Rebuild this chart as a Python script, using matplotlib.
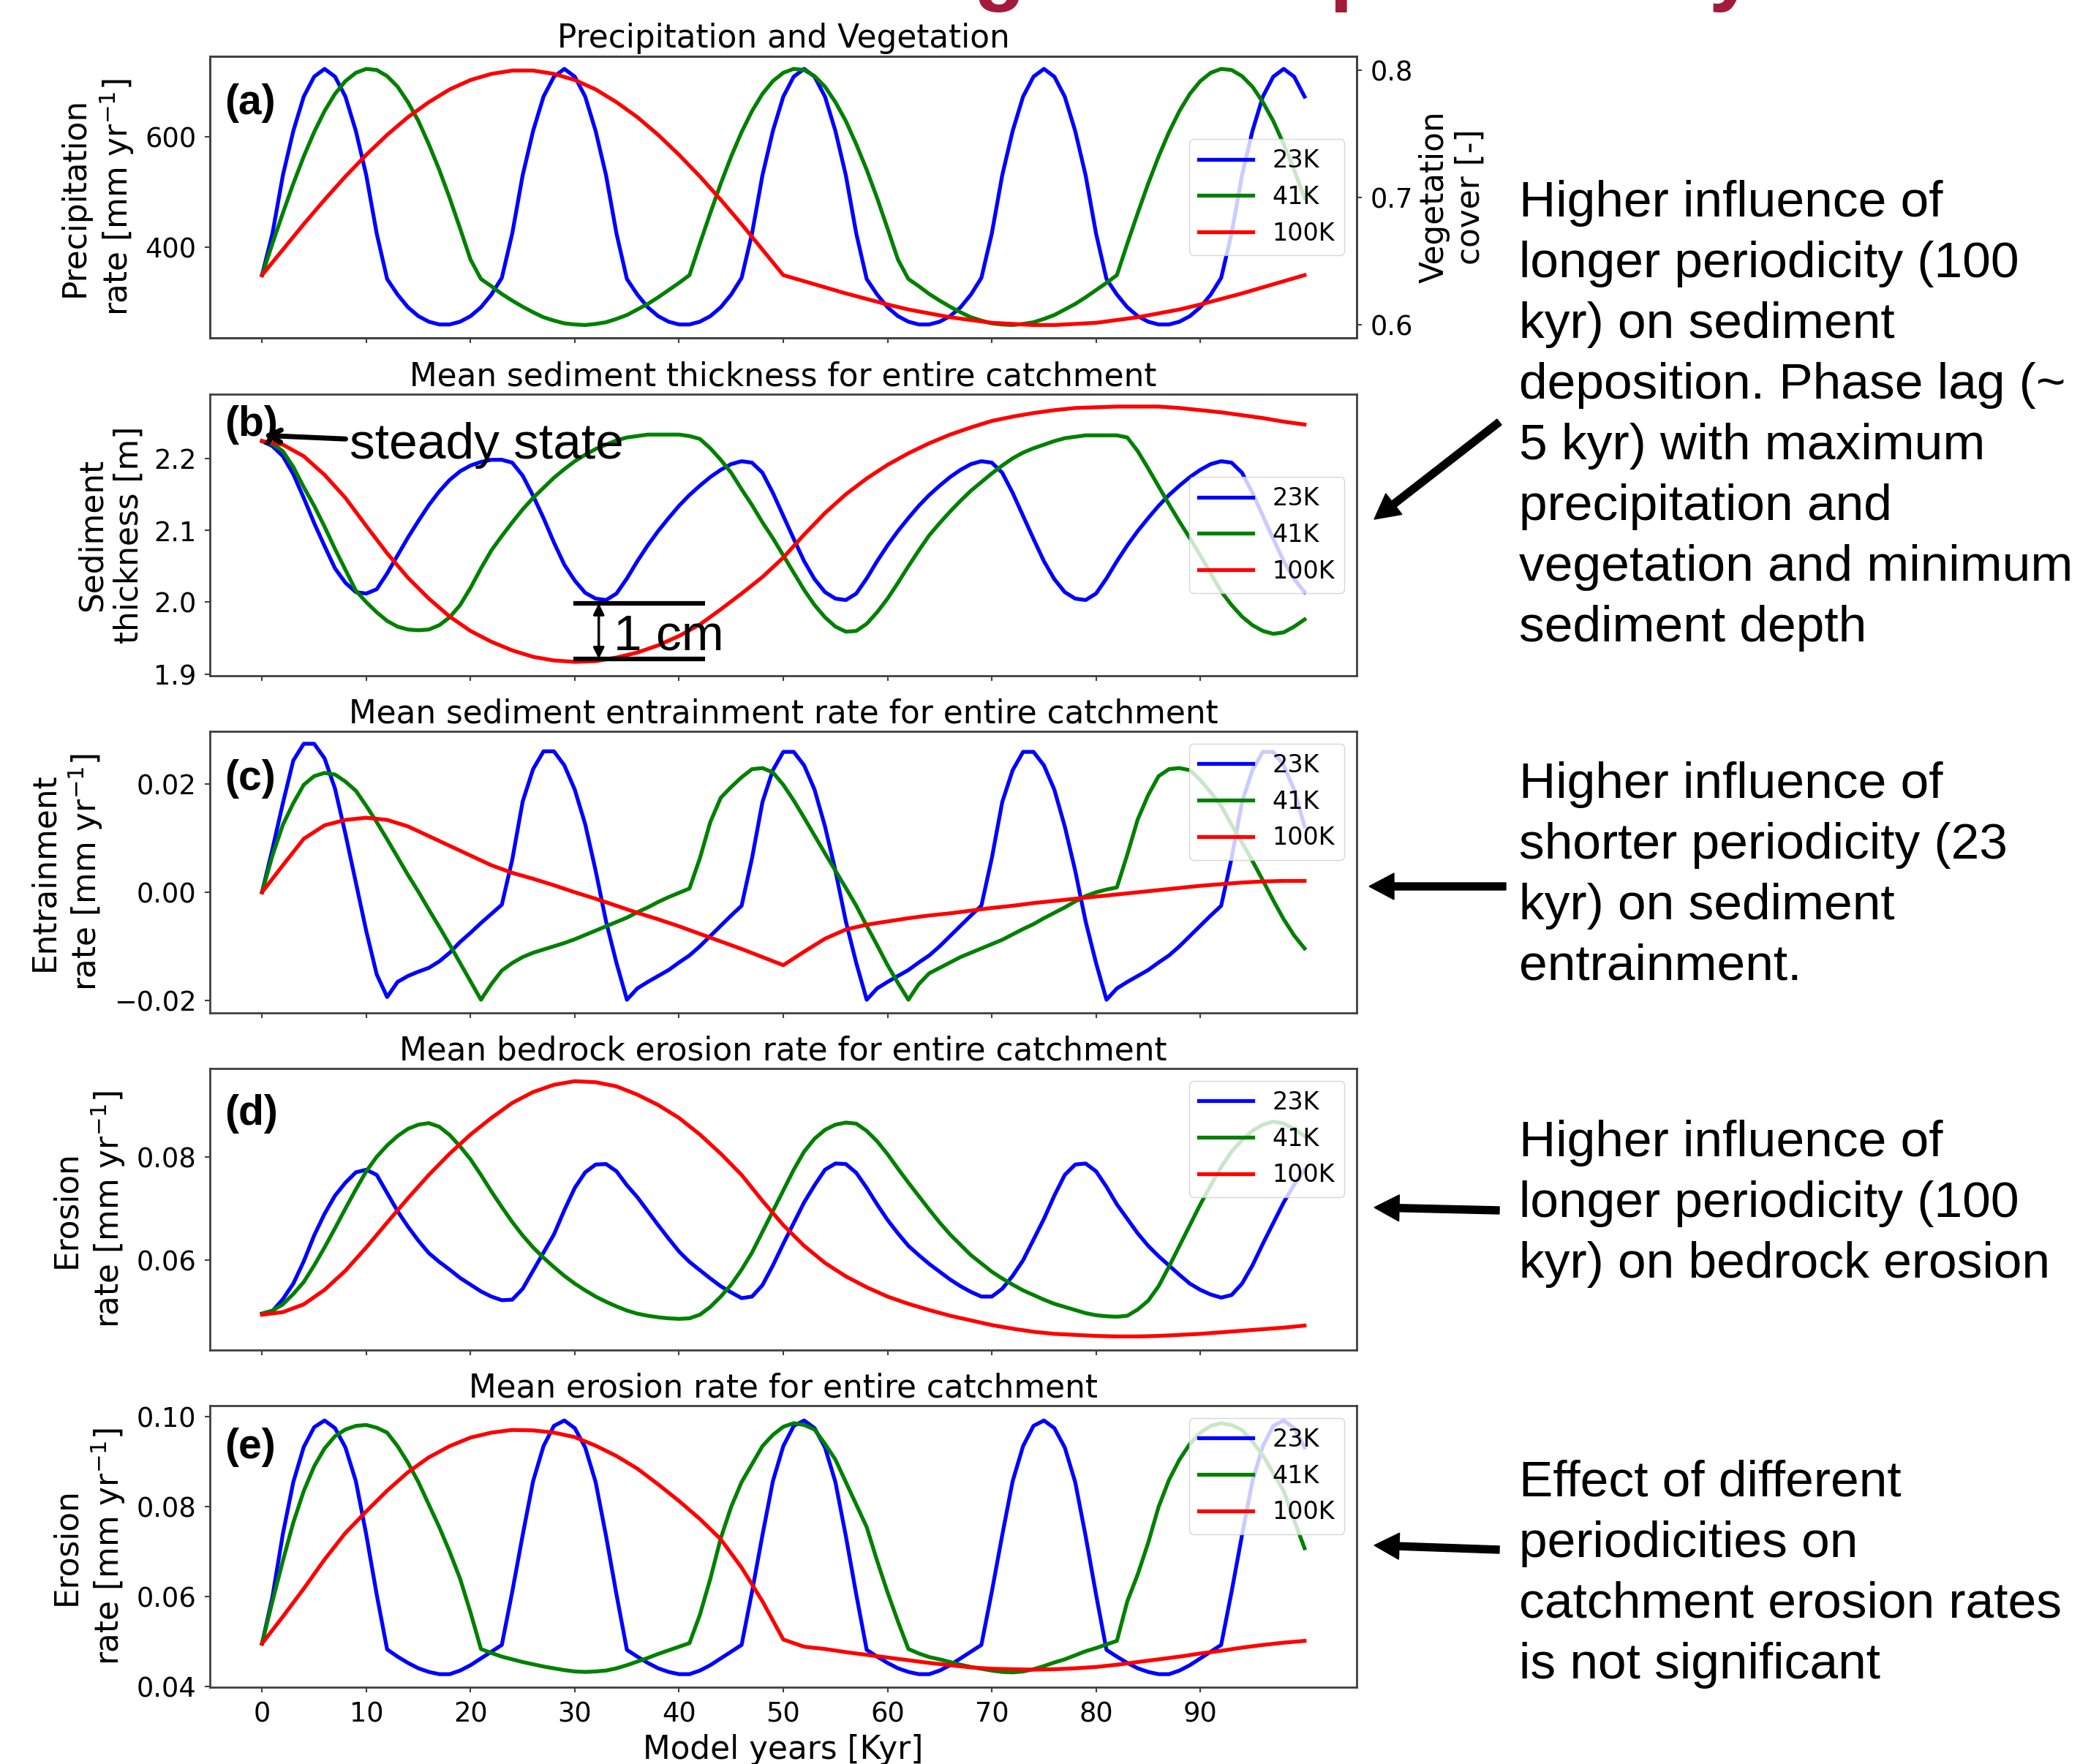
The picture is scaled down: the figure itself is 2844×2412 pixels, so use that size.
import matplotlib
matplotlib.use("Agg")
import matplotlib.pyplot as plt
from matplotlib.patches import FancyArrow

# model time [kyr]; fast cycles sampled every 1 kyr, the 100K run every 2 kyr
years = list(range(0, 101))
years_coarse = list(range(0, 101, 2))
xtick_values = list(range(0, 100, 10))
period_labels = ["23K", "41K", "100K"]
period_colors = ["blue", "green", "red"]

# (a) precipitation rate [mm/yr]
precip_23k = [350, 425, 530, 610, 672, 708, 722, 708, 672, 610, 530, 425, 343, 315, 292, 276, 266, 261, 261, 266, 276, 292, 315,
              345, 425, 530, 610, 672, 708, 722, 708, 672, 610, 530, 425, 343, 315, 292, 276, 266, 261, 261, 266, 276, 292, 315,
              345, 425, 530, 610, 672, 708, 722, 708, 672, 610, 530, 425, 343, 315, 292, 276, 266, 261, 261, 266, 276, 292, 315,
              345, 425, 530, 610, 672, 708, 722, 708, 672, 610, 530, 425, 343, 315, 292, 276, 266, 261, 261, 266, 276, 292, 315,
              345, 425, 530, 610, 672, 708, 722, 708, 672]
precip_41k = [350, 407, 462, 515, 564, 608, 646, 677, 700, 715, 722, 720, 709, 690, 662, 628, 586, 540, 489, 434, 378,
              343, 330, 316, 304, 293, 283, 274, 268, 263, 261, 260, 262, 265, 271, 278, 288, 298, 310, 323, 336,
              350, 407, 462, 515, 564, 608, 646, 677, 700, 715, 722, 720, 709, 690, 662, 628, 586, 540, 489, 434, 378,
              343, 330, 316, 304, 293, 283, 274, 268, 263, 261, 260, 262, 265, 271, 278, 288, 298, 310, 323, 336,
              350, 407, 462, 515, 564, 608, 646, 677, 700, 715, 722, 720, 709, 690, 662, 628, 586, 540, 489]
precip_100k = [350, 396, 442, 486, 528, 567, 603, 635, 662, 685, 702, 713, 719, 719, 713, 702, 685, 662, 635, 603,
               567, 528, 486, 442, 396, 350, 339, 328, 317, 307, 297, 288, 281, 274, 269, 264, 262, 260, 260, 262,
               264, 269, 274, 281, 288, 297, 307, 317, 328, 339, 350]

# (b) mean sediment thickness [m]
sediment_23k = [2.224, 2.217, 2.203, 2.178, 2.145, 2.110, 2.078, 2.047, 2.027, 2.014,
                2.012, 2.018, 2.040, 2.065, 2.090, 2.113, 2.135, 2.154, 2.170, 2.182,
                2.190, 2.195, 2.198, 2.198, 2.194, 2.176, 2.148, 2.117, 2.083, 2.052,
                2.030, 2.013, 2.005, 2.003,
                2.012, 2.033, 2.057, 2.079, 2.099, 2.117, 2.134, 2.149, 2.162, 2.174, 2.184, 2.192,
                2.196, 2.194, 2.180, 2.152, 2.120, 2.088, 2.057, 2.032, 2.014, 2.005, 2.003,
                2.012, 2.033, 2.057, 2.079, 2.099, 2.117, 2.134, 2.149, 2.162, 2.174, 2.184, 2.192,
                2.196, 2.194, 2.180, 2.152, 2.120, 2.088, 2.057, 2.032, 2.014, 2.005, 2.003,
                2.012, 2.033, 2.057, 2.079, 2.099, 2.117, 2.134, 2.149, 2.162, 2.174, 2.184, 2.192,
                2.196, 2.194, 2.180, 2.152, 2.120, 2.088, 2.057, 2.032, 2.014]
sediment_41k = [2.224, 2.220, 2.210, 2.188, 2.160, 2.134, 2.105, 2.074, 2.045, 2.016,
                2.000, 1.986, 1.974, 1.966, 1.962, 1.961, 1.962, 1.968, 1.979, 1.996,
                2.020, 2.047, 2.072, 2.092, 2.111, 2.129, 2.145, 2.159, 2.173, 2.185,
                2.196, 2.205, 2.213, 2.219, 2.225, 2.229, 2.231, 2.233, 2.233, 2.233,
                2.233, 2.231, 2.227, 2.214, 2.198, 2.180, 2.157, 2.135, 2.111, 2.089,
                2.065, 2.041, 2.017, 1.996, 1.979, 1.966, 1.959, 1.960, 1.970, 1.986,
                2.005, 2.027, 2.050, 2.072, 2.093, 2.110, 2.126, 2.141, 2.155, 2.167,
                2.179, 2.190, 2.200, 2.208, 2.214, 2.219, 2.224, 2.228, 2.230, 2.232,
                2.232, 2.232, 2.232, 2.229, 2.210, 2.186, 2.161, 2.136, 2.112, 2.089,
                2.065, 2.040, 2.015, 1.996, 1.980, 1.968, 1.960, 1.956, 1.958, 1.966,
                1.976]
sediment_100k = [2.224, 2.219, 2.203, 2.177, 2.145, 2.106, 2.068, 2.034, 2.005, 1.980,
                 1.960, 1.945, 1.933, 1.924, 1.919, 1.917, 1.918, 1.923, 1.930, 1.940,
                 1.953, 1.969, 1.990, 2.012, 2.035, 2.062, 2.094, 2.124, 2.150, 2.172,
                 2.191, 2.207, 2.221, 2.233, 2.243, 2.252, 2.258, 2.263, 2.267, 2.270,
                 2.271, 2.272, 2.272, 2.272, 2.270, 2.267, 2.264, 2.260, 2.256, 2.251,
                 2.247]

# (c) mean sediment entrainment rate [mm/yr]
entrain_23k = [0.0, 0.0080, 0.0165, 0.0244, 0.0275, 0.0275, 0.0248, 0.0192, 0.0108, 0.0018,
               -0.0072, -0.0152, -0.0194, -0.0166, -0.0155, -0.0147, -0.0140, -0.0128, -0.0112, -0.0092,
               -0.0075, -0.0057, -0.0040, -0.0023,
               0.0060, 0.0168, 0.0228, 0.0261, 0.0261, 0.0235, 0.0190, 0.0126, 0.0040, -0.0054, -0.0131,
               -0.0199, -0.0178, -0.0166, -0.0155, -0.0144, -0.0130, -0.0117, -0.0100, -0.0081, -0.0062,
               -0.0043, -0.0025,
               0.0063, 0.0167, 0.0226, 0.0260, 0.0260, 0.0235, 0.0190, 0.0122, 0.0040, -0.0054, -0.0131,
               -0.0199, -0.0178, -0.0166, -0.0155, -0.0144, -0.0130, -0.0117, -0.0100, -0.0081, -0.0062,
               -0.0043, -0.0025,
               0.0063, 0.0167, 0.0226, 0.0260, 0.0260, 0.0235, 0.0190, 0.0122, 0.0040, -0.0054, -0.0131,
               -0.0199, -0.0178, -0.0166, -0.0155, -0.0144, -0.0130, -0.0117, -0.0100, -0.0081, -0.0062,
               -0.0043, -0.0025,
               0.0063, 0.0167, 0.0226, 0.0260, 0.0260, 0.0235, 0.0190, 0.0122]
entrain_41k = [0.0, 0.0068, 0.0125, 0.0165, 0.0199, 0.0215, 0.0221, 0.0218, 0.0205, 0.0188,
               0.0160, 0.0130, 0.0098, 0.0065, 0.0032, 0.0001, -0.0032, -0.0064, -0.0097, -0.0131,
               -0.0165, -0.0199, -0.0170, -0.0145, -0.0131, -0.0120, -0.0112, -0.0106, -0.0100, -0.0094,
               -0.0087, -0.0079, -0.0071, -0.0063, -0.0055, -0.0047, -0.0037, -0.0028, -0.0018, -0.0009,
               -0.0001, 0.0007, 0.0063, 0.0130, 0.0175, 0.0195, 0.0213, 0.0228, 0.0230, 0.0222,
               0.0199, 0.0170, 0.0138, 0.0105, 0.0072, 0.0040, 0.0008, -0.0025, -0.0062, -0.0098,
               -0.0135, -0.0168, -0.0199, -0.0170, -0.0150, -0.0140, -0.0130, -0.0120, -0.0112, -0.0104,
               -0.0096, -0.0088, -0.0078, -0.0068, -0.0059, -0.0048, -0.0038, -0.0028, -0.0017, -0.0007,
               0.0000, 0.0005, 0.0009, 0.0070, 0.0135, 0.0180, 0.0215, 0.0228, 0.0230, 0.0226,
               0.0208, 0.0185, 0.0160, 0.0125, 0.0092, 0.0058, 0.0022, -0.0015, -0.0050, -0.0080,
               -0.0104]
entrain_100k = [0.0, 0.0050, 0.0099, 0.0124, 0.0134, 0.0138, 0.0134, 0.0122, 0.0104, 0.0086,
                0.0068, 0.0050, 0.0036, 0.0025, 0.0013, 0.0000, -0.0012, -0.0025, -0.0038, -0.0050,
                -0.0063, -0.0077, -0.0091, -0.0105, -0.0120, -0.0135, -0.0110, -0.0086, -0.0069, -0.0060,
                -0.0054, -0.0048, -0.0043, -0.0039, -0.0034, -0.0029, -0.0025, -0.0020, -0.0016, -0.0012,
                -0.0008, -0.0004, 0.0000, 0.0004, 0.0008, 0.0012, 0.0015, 0.0018, 0.0020, 0.0021,
                0.0021]

# (d) mean bedrock erosion rate [mm/yr]
bedrock_23k = [0.0497, 0.0502, 0.0525, 0.0555, 0.0598, 0.0648, 0.0690, 0.0725, 0.0750, 0.0770,
               0.0775, 0.0765, 0.0730, 0.0695, 0.0665, 0.0638, 0.0614, 0.0597, 0.0582, 0.0566,
               0.0553, 0.0540, 0.0530, 0.0523, 0.0524, 0.0545, 0.0580, 0.0615, 0.0650, 0.0697,
               0.0740, 0.0770, 0.0785, 0.0786, 0.0772, 0.0745, 0.0722, 0.0695, 0.0668, 0.0642,
               0.0617, 0.0597, 0.0581, 0.0565, 0.0550, 0.0538, 0.0527, 0.0530, 0.0552, 0.0590,
               0.0632, 0.0672, 0.0712, 0.0745, 0.0775, 0.0787, 0.0786, 0.0769, 0.0740, 0.0708,
               0.0678, 0.0652, 0.0628, 0.0610, 0.0593, 0.0578, 0.0563, 0.0550, 0.0539, 0.0530,
               0.0530, 0.0545, 0.0570, 0.0600, 0.0640, 0.0680, 0.0725, 0.0765, 0.0785, 0.0787,
               0.0772, 0.0742, 0.0708, 0.0680, 0.0652, 0.0628, 0.0608, 0.0590, 0.0572, 0.0555,
               0.0543, 0.0534, 0.0528, 0.0533, 0.0555, 0.0590, 0.0632, 0.0672, 0.0712, 0.0746,
               0.0775]
bedrock_41k = [0.0497, 0.0503, 0.0515, 0.0535, 0.0558, 0.0590, 0.0625, 0.0662, 0.0700, 0.0737,
               0.0772, 0.0800, 0.0822, 0.0840, 0.0854, 0.0862, 0.0865, 0.0858, 0.0842, 0.0820,
               0.0795, 0.0765, 0.0733, 0.0703, 0.0674, 0.0648, 0.0625, 0.0605, 0.0587, 0.0570,
               0.0555, 0.0542, 0.0530, 0.0520, 0.0511, 0.0503, 0.0497, 0.0493, 0.0490, 0.0488,
               0.0487, 0.0488, 0.0495, 0.0510, 0.0530, 0.0553, 0.0582, 0.0615, 0.0655, 0.0695,
               0.0735, 0.0775, 0.0810, 0.0835, 0.0852, 0.0862, 0.0866, 0.0864, 0.0850, 0.0830,
               0.0805, 0.0777, 0.0750, 0.0724, 0.0698, 0.0673, 0.0650, 0.0630, 0.0610, 0.0594,
               0.0578, 0.0565, 0.0553, 0.0542, 0.0533, 0.0524, 0.0516, 0.0510, 0.0504, 0.0498,
               0.0494, 0.0492, 0.0491, 0.0493, 0.0505, 0.0522, 0.0550, 0.0588, 0.0628, 0.0668,
               0.0708, 0.0745, 0.0780, 0.0810, 0.0832, 0.0850, 0.0862, 0.0868, 0.0864, 0.0854,
               0.0840]
bedrock_100k = [0.0495, 0.0500, 0.0515, 0.0543, 0.0580, 0.0625, 0.0673, 0.0720, 0.0765, 0.0806,
                0.0843, 0.0875, 0.0904, 0.0925, 0.0939, 0.0946, 0.0944, 0.0936, 0.0920, 0.0900,
                0.0875, 0.0843, 0.0806, 0.0765, 0.0715, 0.0668, 0.0628, 0.0595, 0.0569, 0.0548,
                0.0530, 0.0516, 0.0504, 0.0493, 0.0484, 0.0475, 0.0468, 0.0462, 0.0458, 0.0456,
                0.0454, 0.0453, 0.0453, 0.0454, 0.0456, 0.0458, 0.0461, 0.0464, 0.0467, 0.0470,
                0.0474]

# (e) mean erosion rate [mm/yr]
erosion_23k = [0.0496, 0.0600, 0.0740, 0.0855, 0.0933, 0.0977, 0.0992, 0.0975, 0.0932, 0.0857,
               0.0738, 0.0605, 0.0483, 0.0467, 0.0453, 0.0441, 0.0433, 0.0428, 0.0428, 0.0436,
               0.0448, 0.0463, 0.0478, 0.0493, 0.0611, 0.0737, 0.0857, 0.0935, 0.0980, 0.0992,
               0.0975, 0.0932, 0.0855, 0.0735, 0.0605, 0.0482, 0.0467, 0.0453, 0.0441, 0.0433,
               0.0428, 0.0428, 0.0436, 0.0448, 0.0463, 0.0478, 0.0493, 0.0611, 0.0737, 0.0857,
               0.0935, 0.0980, 0.0992, 0.0975, 0.0932, 0.0855, 0.0735, 0.0605, 0.0482, 0.0467,
               0.0453, 0.0441, 0.0433, 0.0428, 0.0428, 0.0436, 0.0448, 0.0463, 0.0478, 0.0493,
               0.0611, 0.0737, 0.0857, 0.0935, 0.0980, 0.0992, 0.0975, 0.0932, 0.0855, 0.0735,
               0.0605, 0.0482, 0.0467, 0.0453, 0.0441, 0.0433, 0.0428, 0.0428, 0.0436, 0.0448,
               0.0463, 0.0478, 0.0493, 0.0611, 0.0737, 0.0857, 0.0935, 0.0980, 0.0992, 0.0975,
               0.0932]
erosion_41k = [0.0496, 0.0590, 0.0680, 0.0765, 0.0835, 0.0890, 0.0930, 0.0957, 0.0972, 0.0980,
               0.0982, 0.0976, 0.0965, 0.0935, 0.0898, 0.0855, 0.0805, 0.0755, 0.0700, 0.0640,
               0.0565, 0.0484, 0.0475, 0.0467, 0.0461, 0.0455, 0.0450, 0.0445, 0.0441, 0.0437,
               0.0434, 0.0433, 0.0434, 0.0436, 0.0441, 0.0448, 0.0456, 0.0464, 0.0473, 0.0481,
               0.0489, 0.0497, 0.0560, 0.0640, 0.0730, 0.0800, 0.0855, 0.0895, 0.0935, 0.0960,
               0.0978, 0.0986, 0.0982, 0.0972, 0.0940, 0.0905, 0.0855, 0.0805, 0.0755, 0.0680,
               0.0610, 0.0545, 0.0484, 0.0474, 0.0466, 0.0461, 0.0455, 0.0449, 0.0444, 0.0440,
               0.0436, 0.0433, 0.0432, 0.0434, 0.0439, 0.0446, 0.0454, 0.0461, 0.0470, 0.0479,
               0.0486, 0.0494, 0.0502, 0.0590, 0.0650, 0.0720, 0.0800, 0.0860, 0.0905, 0.0940,
               0.0965, 0.0980, 0.0986, 0.0982, 0.0971, 0.0945, 0.0915, 0.0875, 0.0835, 0.0770,
               0.0708]
erosion_100k = [0.0496, 0.0556, 0.0618, 0.0683, 0.0742, 0.0790, 0.0836, 0.0877, 0.0910, 0.0935,
                0.0954, 0.0965, 0.0971, 0.0970, 0.0965, 0.0955, 0.0936, 0.0913, 0.0885, 0.0850,
                0.0813, 0.0773, 0.0728, 0.0665, 0.0590, 0.0505, 0.0489, 0.0484, 0.0477, 0.0471,
                0.0465, 0.0459, 0.0453, 0.0448, 0.0443, 0.0440, 0.0439, 0.0438, 0.0439, 0.0441,
                0.0444, 0.0449, 0.0455, 0.0461, 0.0467, 0.0474, 0.0480, 0.0487, 0.0493, 0.0498,
                0.0502]

# vegetation cover shares the precipitation curves (0.6 <-> 260 mm/yr, 0.8 <-> 720 mm/yr)
veg_ref = (0.6, 0.8)
precip_ref = (260, 720)

panels = [
    dict(series=(precip_23k, precip_41k, precip_100k), title="Precipitation and Vegetation",
         ylabel="Precipitation\nrate [mm yr$^{-1}$]", yticks=[400, 600], ylim=(236.8, 744.7),
         tag="(a)", tag_y=0.835, loc="center right"),
    dict(series=(sediment_23k, sediment_41k, sediment_100k), title="Mean sediment thickness for entire catchment",
         ylabel="Sediment\nthickness [m]", yticks=[1.9, 2.0, 2.1, 2.2], ylim=(1.8977, 2.2892),
         tag="(b)", tag_y=0.89, loc="center right"),
    dict(series=(entrain_23k, entrain_41k, entrain_100k), title="Mean sediment entrainment rate for entire catchment",
         ylabel="Entrainment\nrate [mm yr$^{-1}$]", yticks=[-0.02, 0.0, 0.02], ylim=(-0.02234, 0.0298),
         tag="(c)", tag_y=0.83, loc="upper right"),
    dict(series=(bedrock_23k, bedrock_41k, bedrock_100k), title="Mean bedrock erosion rate for entire catchment",
         ylabel="Erosion\nrate [mm yr$^{-1}$]", yticks=[0.06, 0.08], ylim=(0.04267, 0.09705),
         tag="(d)", tag_y=0.84, loc="upper right"),
    dict(series=(erosion_23k, erosion_41k, erosion_100k), title="Mean erosion rate for entire catchment",
         ylabel="Erosion\nrate [mm yr$^{-1}$]", yticks=[0.04, 0.06, 0.08, 0.10], ylim=(0.0399, 0.1025),
         tag="(e)", tag_y=0.852, loc="upper right"),
]

W, H = 2844, 2412
plt.rcParams["font.family"] = "DejaVu Sans"
plt.rcParams["axes.titlesize"] = 31.5
plt.rcParams["axes.labelsize"] = 31.5
plt.rcParams["xtick.labelsize"] = 26.5
plt.rcParams["ytick.labelsize"] = 26.5
plt.rcParams["legend.fontsize"] = 24

fig = plt.figure(figsize=(W / 100, H / 100), dpi=100)
fig.patch.set_facecolor("white")


def style_axis(ax):
    for spine in ax.spines.values():
        spine.set_linewidth(2)
        spine.set_color("0.25")
    ax.tick_params(length=5, width=1.5, pad=8.5, color="0.25")


panel_tops = [77, 539, 1000, 1461, 1922]
panel_h = 385
axes = []
for i, (top, p) in enumerate(zip(panel_tops, panels)):
    ax = fig.add_axes([287 / W, 1 - (top + panel_h) / H, 1568 / W, panel_h / H])
    xs = (years, years, years_coarse)
    for x, y, lab, col in zip(xs, p["series"], period_labels, period_colors):
        ax.plot(x, y, color=col, lw=3.8, label=lab)
    ax.set_xlim(-5, 105)
    ax.set_xticks(xtick_values)
    ax.set_ylim(*p["ylim"])
    ax.set_yticks(p["yticks"])
    ax.set_title(p["title"], pad=8.5)
    ax.set_ylabel(p["ylabel"], labelpad=9)
    style_axis(ax)
    if i < len(panels) - 1:
        ax.tick_params(labelbottom=False)
    else:
        ax.set_xlabel("Model years [Kyr]", labelpad=6)
    ax.legend(loc=p["loc"], handlelength=2.2, framealpha=0.8, borderaxespad=0.5)
    ax.text(0.013, p["tag_y"], p["tag"], transform=ax.transAxes, fontsize=41,
            fontweight="bold", family="Liberation Sans", va="center", ha="left", zorder=10)
    axes.append(ax)

# twin axis for vegetation cover in panel (a)
ax_a = axes[0]
ax_veg = ax_a.twinx()
lo, hi = panels[0]["ylim"]
scale = (veg_ref[1] - veg_ref[0]) / (precip_ref[1] - precip_ref[0])
ax_veg.set_ylim(veg_ref[0] + (lo - precip_ref[0]) * scale, veg_ref[0] + (hi - precip_ref[0]) * scale)
ax_veg.set_yticks([0.6, 0.7, 0.8])
ax_veg.set_ylabel("Vegetation\ncover [-]", labelpad=5)
style_axis(ax_veg)

# panel (b) annotations
ax_b = axes[1]
ax_b.annotate("steady state", xy=(0.1, 2.232), xytext=(8.4, 2.2), fontsize=50,
              family="Liberation Sans", va="baseline", ha="left",
              arrowprops=dict(arrowstyle="->", lw=5, color="k", mutation_scale=30, shrinkB=0))
ax_b.plot([29.9, 42.5], [1.9983, 1.9983], color="k", lw=4.5, solid_capstyle="butt")
ax_b.plot([29.9, 42.5], [1.9213, 1.9213], color="k", lw=4.5, solid_capstyle="butt")
ax_b.annotate("", xy=(32.3, 1.9983), xytext=(32.3, 1.9213),
              arrowprops=dict(arrowstyle="<|-|>", lw=2.5, color="k", mutation_scale=22,
                              shrinkA=0, shrinkB=0))
ax_b.text(33.7, 1.934, "1 cm", fontsize=50, family="Liberation Sans", va="baseline", ha="left")

# right-hand notes, one text per line so spacing stays even
notes = [
    (296, ["Higher influence of", "longer periodicity (100", "kyr) on sediment",
           "deposition. Phase lag (~", "5 kyr) with maximum", "precipitation and",
           "vegetation and minimum", "sediment depth"]),
    (1091, ["Higher influence of", "shorter periodicity (23", "kyr) on sediment", "entrainment."]),
    (1581, ["Higher influence of", "longer periodicity (100", "kyr) on bedrock erosion"]),
    (2046, ["Effect of different", "periodicities on", "catchment erosion rates", "is not significant"]),
]
line_step = 83
for first_baseline, lines in notes:
    for k, line in enumerate(lines):
        fig.text(2077 / W, 1 - (first_baseline + k * line_step) / H, line, fontsize=50,
                 family="Liberation Sans", va="baseline", ha="left")

# arrows from notes to panels (pixel positions, top-left origin)
arrows = [((2050, 577), (1879, 710)), ((2059, 1212), (1872, 1212)),
          ((2050, 1655), (1879, 1651)), ((2050, 2119), (1879, 2113))]
for (x0, y0), (x1, y1) in arrows:
    arr = FancyArrow(x0 / 100, (H - y0) / 100, (x1 - x0) / 100, (y0 - y1) / 100,
                     width=0.10, head_width=0.36, head_length=0.34,
                     length_includes_head=True, color="k", transform=fig.dpi_scale_trans)
    fig.add_artist(arr)

# slide heading, cut off by the top edge of the picture
fig.text(864 / W, 1 + 7 / H, "Modelling orbital periodicity", fontsize=83, fontweight="bold",
         family="Liberation Sans", color="#a31b3a", va="baseline", ha="left")

fig.savefig("out.png", dpi=100)
plt.close(fig)
print("Wrote: out.png")
